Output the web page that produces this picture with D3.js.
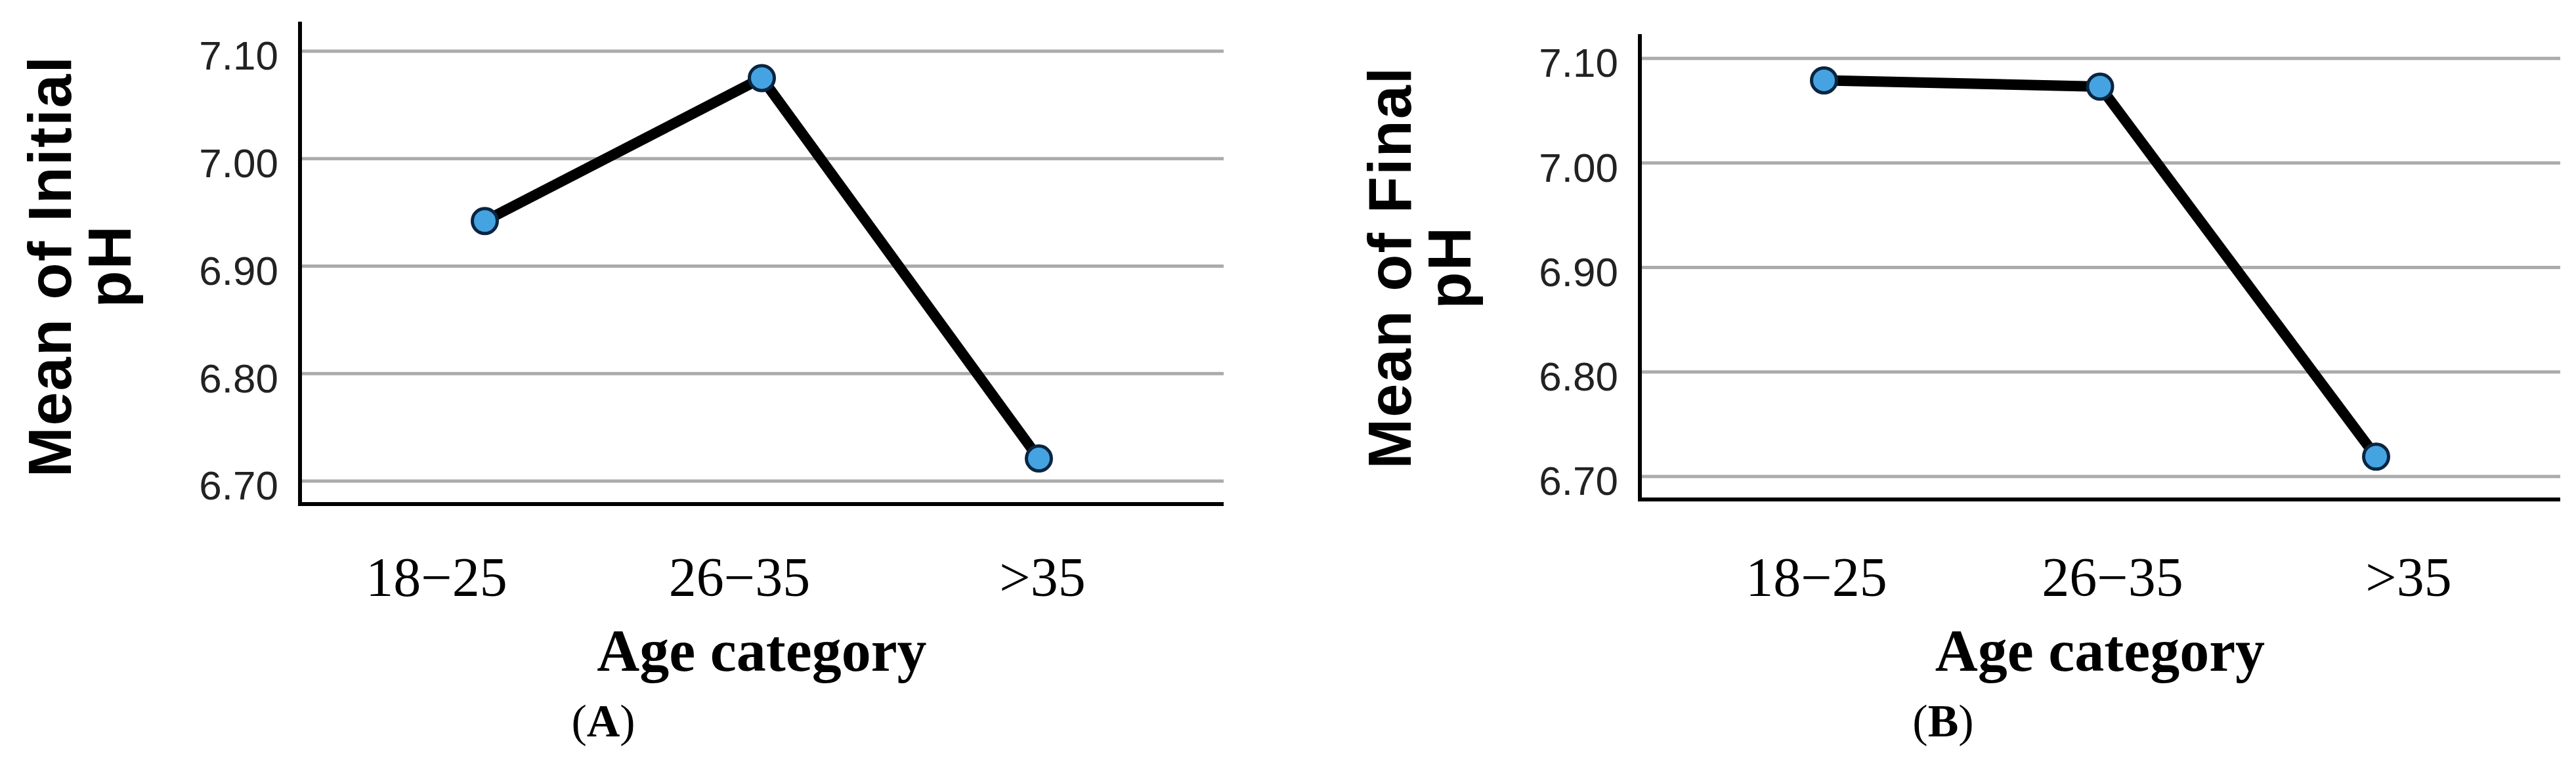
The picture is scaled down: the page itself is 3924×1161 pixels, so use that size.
<!DOCTYPE html>
<meta charset="utf-8">
<head>
  <style>
    html, body { margin: 0; padding: 0; background: #ffffff; }
    svg { display: block; }
    .tick text { fill: #222222; }
  </style>
</head>
<script src="https://cdn.jsdelivr.net/npm/d3@7"></script>
<body>
<script>
  // data
  var ageCategories = ["18\u221225", "26\u221235", ">35"];
  var initialPH = [6.942, 7.075, 6.721];
  var finalPH = [7.079, 7.073, 6.719];
  var yTicks = [6.70, 6.80, 6.90, 7.00, 7.10];
  var yTitles = [["Mean of Initial", "pH"], ["Mean of Final", "pH"]];
  var panelLetters = ["A", "B"];
  var xTitle = "Age category";

  var width = 3924, height = 1161;

  var svg = d3.select("body").append("svg")
    .attr("width", width)
    .attr("height", height);

  svg.append("rect").attr("width", width).attr("height", height).attr("fill", "#ffffff");

  // panel frames (plot area in pixels)
  var panels = [
    { values: initialPH, title: yTitles[0], letter: panelLetters[0],
      x0: 457, x1: 1864, yTop: 733, yHigh: 78, axisTop: 33, lab0: 208, lab1: 1131 },
    { values: finalPH, title: yTitles[1], letter: panelLetters[1],
      x0: 2498, x1: 3900, yTop: 726, yHigh: 89, axisTop: 52, lab0: 269, lab1: 1171 }
  ];

  panels.forEach(function(p) {
    var g = svg.append("g");

    var x = d3.scalePoint()
      .domain(ageCategories)
      .range([p.x0, p.x1])
      .padding(0.667);

    var y = d3.scaleLinear()
      .domain([6.70, 7.10])
      .range([p.yTop, p.yHigh]);

    var yBottom = y(6.70) + 35;

    // gridlines
    g.selectAll(".grid").data(yTicks).enter().append("line")
      .attr("x1", p.x0).attr("x2", p.x1)
      .attr("y1", function(d) { return y(d); })
      .attr("y2", function(d) { return y(d); })
      .attr("stroke", "#ababab")
      .attr("stroke-width", 5);

    // y tick labels
    var yAxis = g.append("g")
      .attr("transform", "translate(" + p.x0 + ",0)")
      .call(d3.axisLeft(y).tickValues(yTicks).tickFormat(d3.format(".2f")).tickSize(0).tickPadding(33));
    yAxis.select(".domain").remove();
    yAxis.selectAll("text")
      .attr("dy", "0.45em")
      .style("font-family", "'Liberation Sans', Arial, sans-serif")
      .style("font-size", "62px");

    // axis lines
    g.append("line")
      .attr("x1", p.x0).attr("x2", p.x0)
      .attr("y1", p.axisTop).attr("y2", yBottom + 3)
      .attr("stroke", "#000").attr("stroke-width", 6);
    g.append("line")
      .attr("x1", p.x0 - 3).attr("x2", p.x1)
      .attr("y1", yBottom).attr("y2", yBottom)
      .attr("stroke", "#000").attr("stroke-width", 6);

    // line + markers
    var line = d3.line()
      .x(function(d, i) { return x(ageCategories[i]); })
      .y(function(d) { return y(d); });

    g.append("path")
      .datum(p.values)
      .attr("d", line)
      .attr("fill", "none")
      .attr("stroke", "#000")
      .attr("stroke-width", 16)
      .attr("stroke-linejoin", "round");

    g.selectAll(".dot").data(p.values).enter().append("circle")
      .attr("cx", function(d, i) { return x(ageCategories[i]); })
      .attr("cy", function(d) { return y(d); })
      .attr("r", 19)
      .attr("fill", "#45a3e2")
      .attr("stroke", "#0b2540")
      .attr("stroke-width", 5);

    // category labels (retyped in serif under the plot)
    var xl = d3.scalePoint()
      .domain(ageCategories)
      .range([p.x0 + p.lab0, p.x0 + p.lab1]);

    g.selectAll(".xlab").data(ageCategories).enter().append("text")
      .attr("x", function(d) { return xl(d); })
      .attr("y", 908)
      .attr("text-anchor", "middle")
      .style("font-family", "'Liberation Serif', 'Times New Roman', serif")
      .style("font-size", "84px")
      .attr("fill", "#000")
      .text(function(d) { return d; });

    g.append("text")
      .attr("x", (p.x0 + p.x1) / 2)
      .attr("y", 1022)
      .attr("text-anchor", "middle")
      .style("font-family", "'Liberation Serif', 'Times New Roman', serif")
      .style("font-size", "90px")
      .style("font-weight", "bold")
      .text(xTitle);

    var letter = g.append("text")
      .attr("x", p.x0 + 462)
      .attr("y", 1122)
      .attr("text-anchor", "middle")
      .style("font-family", "'Liberation Serif', 'Times New Roman', serif")
      .style("font-size", "70px");
    letter.append("tspan").text("(");
    letter.append("tspan").style("font-weight", "bold").text(p.letter);
    letter.append("tspan").text(")");

    // y title, two lines rotated
    var cy = (y(6.70) + y(7.10)) / 2;
    p.title.forEach(function(t, i) {
      var bx = p.x0 - 349 + i * 91;
      g.append("text")
        .attr("transform", "translate(" + bx + "," + cy + ") rotate(-90)")
        .attr("text-anchor", "middle")
        .style("font-family", "'Liberation Sans', Arial, sans-serif")
        .style("font-size", "92px")
        .style("font-weight", "bold")
        .style("letter-spacing", "2px")
        .text(t);
    });
  });
</script>
</body>
